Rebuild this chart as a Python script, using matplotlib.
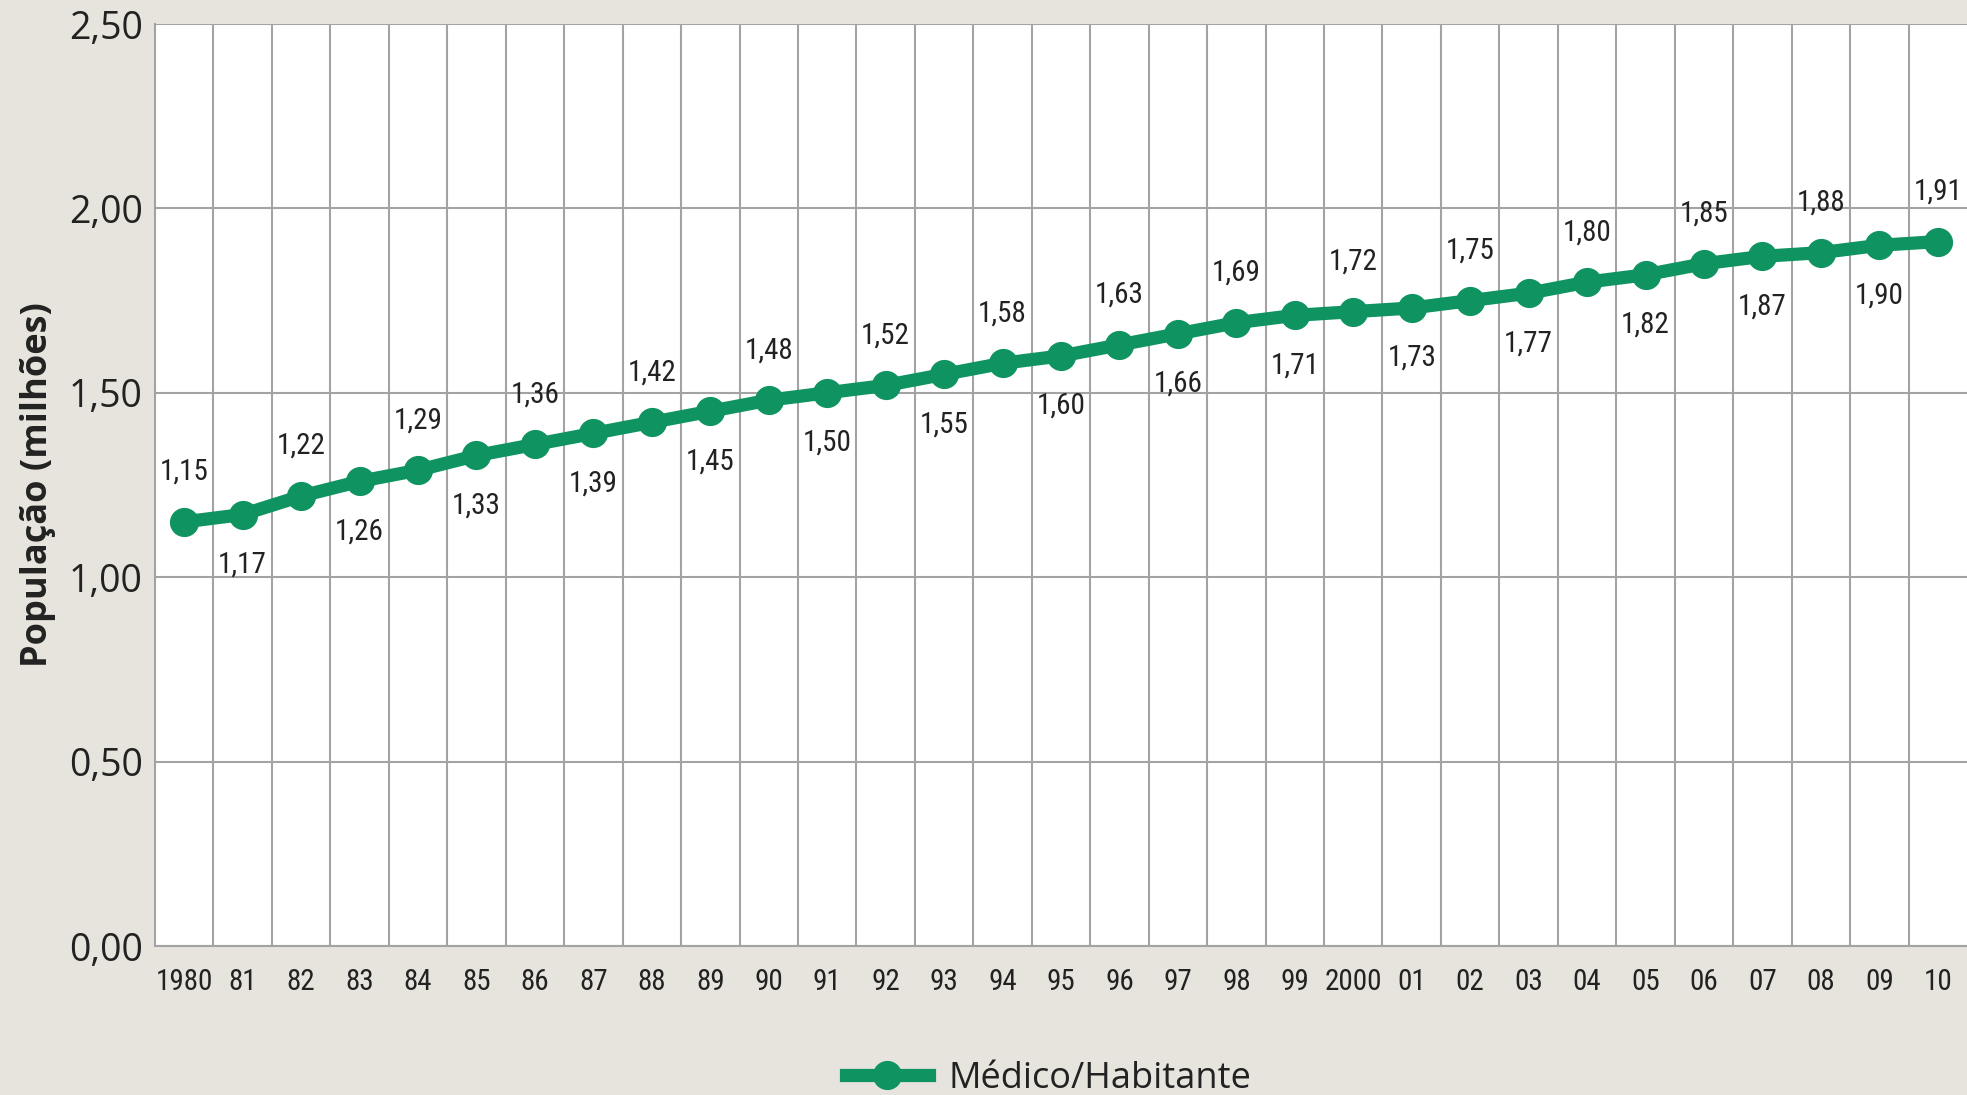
import matplotlib
matplotlib.use("Agg")
import matplotlib.pyplot as plt
from matplotlib import font_manager as fm
from matplotlib.ticker import FuncFormatter, FixedLocator
from matplotlib.lines import Line2D

years = ["1980", "81", "82", "83", "84", "85", "86", "87", "88", "89", "90",
         "91", "92", "93", "94", "95", "96", "97", "98", "99", "2000",
         "01", "02", "03", "04", "05", "06", "07", "08", "09", "10"]
values = [1.15, 1.17, 1.22, 1.26, 1.29, 1.33, 1.36, 1.39, 1.42, 1.45, 1.48,
          1.50, 1.52, 1.55, 1.58, 1.60, 1.63, 1.66, 1.69, 1.71, 1.72,
          1.73, 1.75, 1.77, 1.80, 1.82, 1.85, 1.87, 1.88, 1.90, 1.91]
series_name = "Médico/Habitante"
y_label = "População (milhões)"

BG = "#e6e4dc"
GREEN = "#0f9461"
GRID = "#a3a3a3"
TXT = "#222222"
REG = ["Open Sans", "DejaVu Sans"]


def pick_narrow():
    cands = [("Liberation Sans Narrow", "normal"), ("Roboto Condensed", "normal"),
             ("Open Sans Condensed", "normal"), ("Open Sans", "condensed"),
             ("Noto Sans", "condensed"), ("DejaVu Sans", "condensed")]
    for fam, st in cands:
        try:
            p = fm.findfont(fm.FontProperties(family=fam, stretch=st),
                            fallback_to_default=False)
        except Exception:
            continue
        name = p.lower()
        if st == "normal" and fam.split()[0].lower() in name:
            return fam, st, True
        if st == "condensed" and ("condensed" in name or "narrow" in name):
            return fam, st, True
    return "Open Sans", "normal", False


NFAM, NSTRETCH, HAS_NARROW = pick_narrow()
LBL_SIZE = 21 if HAS_NARROW else 19
XT_SIZE = 21 if HAS_NARROW else 19

fig = plt.figure(figsize=(19.67, 10.95), dpi=100, facecolor=BG)
ax = fig.add_axes([155/1967, 1 - 946/1095, 1 - 155/1967, (946 - 24)/1095])
ax.set_facecolor("white")

x = list(range(len(years)))
ax.plot(x, values, color=GREEN, lw=9.5, marker="o", ms=20, zorder=3,
        solid_capstyle="butt")

for i, v in enumerate(values):
    lbl = f"{v:.2f}".replace(".", ",")
    off = 36 if i % 2 == 0 else -36
    ax.annotate(lbl, (i, v), xytext=(0, off), textcoords="offset points",
                ha="center", va="center", fontsize=LBL_SIZE, color=TXT,
                family=[NFAM, "DejaVu Sans"], fontstretch=NSTRETCH, zorder=4)

ax.set_xlim(-0.5, len(years) - 0.5)
ax.set_ylim(0, 2.5)
ax.set_xticks(x)
ax.set_xticklabels(years, family=[NFAM, "DejaVu Sans"], fontstretch=NSTRETCH,
                   fontsize=XT_SIZE, color=TXT)
ax.xaxis.set_minor_locator(FixedLocator([i + 0.5 for i in range(len(years) - 1)]))
ax.set_yticks([0, 0.5, 1.0, 1.5, 2.0, 2.5])
ax.yaxis.set_major_formatter(FuncFormatter(lambda v, p: f"{v:.2f}".replace(".", ",")))
for t in ax.get_yticklabels():
    t.set_family(REG)
    t.set_fontsize(27)
    t.set_color(TXT)

ax.tick_params(axis="both", which="both", length=0)
ax.tick_params(axis="x", pad=16)
ax.tick_params(axis="y", pad=9)
ax.grid(axis="y", which="major", color=GRID, lw=1.5, zorder=1)
ax.grid(axis="x", which="minor", color=GRID, lw=1.5, zorder=1)
ax.grid(axis="x", which="major", visible=False)
for s in ["top", "right"]:
    ax.spines[s].set_visible(False)
for s in ["left", "bottom"]:
    ax.spines[s].set_color(GRID)
    ax.spines[s].set_linewidth(1.5)

fig.text(38/1967, 1 - 485/1095, y_label, rotation=90, ha="center", va="center",
         fontsize=26, fontweight="bold", family=REG, color=TXT)

handle = Line2D([], [], color=GREEN, lw=9.5, marker="o", ms=20)
fig.legend([handle], [series_name], loc="center", bbox_to_anchor=(0.533, 1 - 1079/1095),
           frameon=False, prop={"family": "Open Sans", "size": 26},
           handlelength=2.3, handletextpad=0.55, labelcolor=TXT)

fig.savefig("out.png", dpi=100, facecolor=BG)
